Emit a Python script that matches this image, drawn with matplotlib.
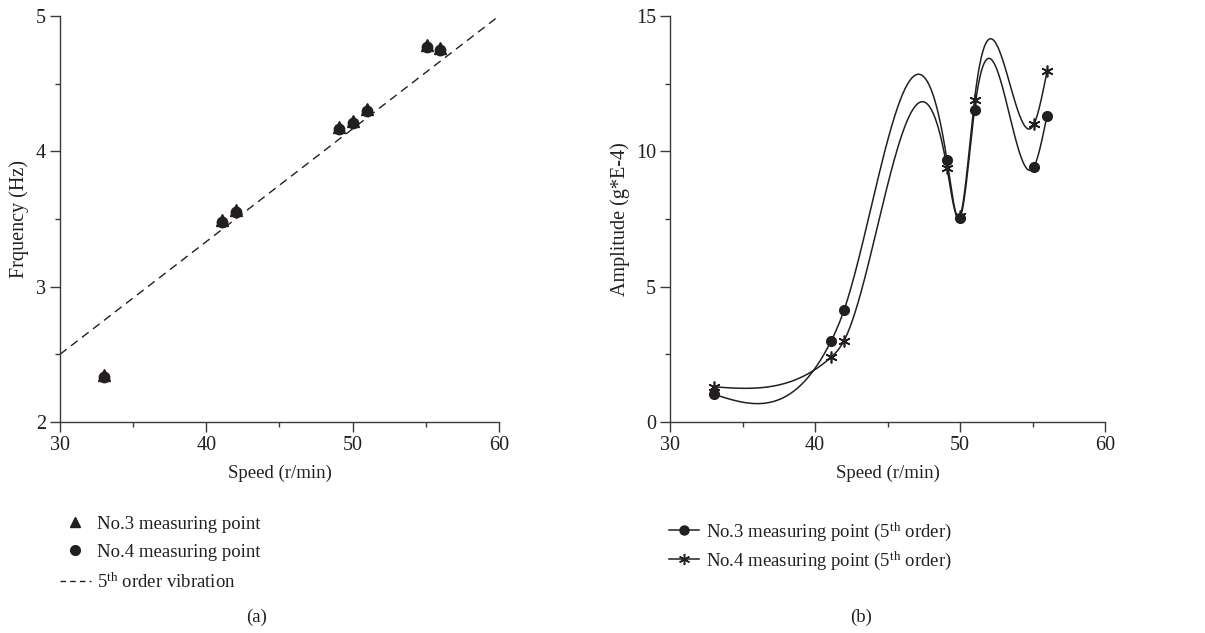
import numpy as np
import matplotlib
matplotlib.use("Agg")
import matplotlib.pyplot as plt
from matplotlib.ticker import MultipleLocator

plt.rcParams['font.family'] = ['Liberation Serif', 'DejaVu Serif']
plt.rcParams['mathtext.fontset'] = 'custom'
plt.rcParams['mathtext.rm'] = 'Liberation Serif'
plt.rcParams['mathtext.it'] = 'Liberation Serif:italic'

# ---------------- data ----------------
speed = [33, 41.1, 42, 49.1, 50, 51, 55.1, 56]
freq_p3 = [2.345, 3.495, 3.565, 4.18, 4.225, 4.315, 4.785, 4.765]
freq_p4 = [2.33, 3.48, 3.55, 4.165, 4.21, 4.30, 4.77, 4.75]
line_speed = [30, 60]
line_freq = [2.5, 5.0]

amp_p3 = [1.03, 2.98, 4.13, 9.68, 7.55, 11.53, 9.43, 11.32]
amp_p4 = [1.30, 2.39, 3.00, 9.40, 7.61, 11.90, 11.00, 12.95]

INK = '#231f20'


def natural_spline(x, y, n=600):
    x = np.asarray(x, float)
    y = np.asarray(y, float)
    k = len(x)
    h = np.diff(x)
    A = np.zeros((k, k))
    b = np.zeros(k)
    A[0, 0] = 1
    A[-1, -1] = 1
    for i in range(1, k - 1):
        A[i, i - 1] = h[i - 1]
        A[i, i] = 2 * (h[i - 1] + h[i])
        A[i, i + 1] = h[i]
        b[i] = 6 * ((y[i + 1] - y[i]) / h[i] - (y[i] - y[i - 1]) / h[i - 1])
    M = np.linalg.solve(A, b)
    xs = np.linspace(x[0], x[-1], n)
    idx = np.clip(np.searchsorted(x, xs) - 1, 0, k - 2)
    x0, x1 = x[idx], x[idx + 1]
    hh = x1 - x0
    t1 = x1 - xs
    t0 = xs - x0
    ys = (M[idx] * t1 ** 3 / (6 * hh) + M[idx + 1] * t0 ** 3 / (6 * hh)
          + (y[idx] / hh - M[idx] * hh / 6) * t1
          + (y[idx + 1] / hh - M[idx + 1] * hh / 6) * t0)
    return xs, ys


fig = plt.figure(figsize=(12.05, 6.33), dpi=100)
axL = fig.add_axes([60 / 1205, 1 - 422 / 633, (499 - 60) / 1205, (422 - 16) / 633])
axR = fig.add_axes([670 / 1205, 1 - 422 / 633, (1105 - 670) / 1205, (422 - 16) / 633])

FS = 13.5
TFS = 14.5
YFS = 14.5


def style(ax):
    for s in ['top', 'right']:
        ax.spines[s].set_visible(False)
    for s in ['left', 'bottom']:
        ax.spines[s].set_color('#3a3a3a')
        ax.spines[s].set_linewidth(1.0)
    ax.tick_params(which='major', direction='out', length=7, width=1.0,
                   color='#3a3a3a', labelsize=TFS, labelcolor=INK, pad=3)
    ax.tick_params(which='minor', direction='out', length=3.5, width=1.0,
                   color='#3a3a3a')
    ax.xaxis.set_major_locator(MultipleLocator(10))
    ax.xaxis.set_minor_locator(MultipleLocator(5))
    ax.set_xlim(30, 60)


# ---------------- (a) ----------------
style(axL)
axL.set_ylim(2, 5)
axL.yaxis.set_major_locator(MultipleLocator(1))
axL.yaxis.set_minor_locator(MultipleLocator(0.5))
h3, = axL.plot(speed, freq_p3, linestyle='none', marker='^', ms=8.5, color=INK,
               label='No.3 measuring point', clip_on=False)
h4, = axL.plot(speed, freq_p4, linestyle='none', marker='o', ms=7.5, color=INK,
               label='No.4 measuring point', clip_on=False)
hl, = axL.plot(line_speed, line_freq, linestyle=(0, (6, 4)), color=INK, lw=1.0,
               label='5$^{\\mathrm{th}}$ order vibration')
axL.set_xlabel('Speed (r/min)', fontsize=FS, color=INK, labelpad=7)
axL.set_ylabel('Frquency (Hz)', fontsize=YFS, color=INK, labelpad=5)
legA = axL.legend(handles=[h3, h4, hl], loc='upper left',
                  bbox_to_anchor=(52 / 1205, 1 - 508 / 633), bbox_transform=fig.transFigure,
                  frameon=False, fontsize=FS, handlelength=1.7, handletextpad=0.3,
                  labelspacing=0.6, borderaxespad=0, labelcolor=INK)
for hd in legA.legend_handles[:2]:
    hd.set_markersize(7)
legA.legend_handles[2].set_linestyle((0, (4, 3)))
fig.text(257 / 1205, 1 - 617 / 633, '(a)', ha='center', va='center', fontsize=FS, color=INK)

# ---------------- (b) ----------------
style(axR)
axR.set_ylim(0, 15)
axR.yaxis.set_major_locator(MultipleLocator(5))
axR.yaxis.set_minor_locator(MultipleLocator(2.5))
xs3, ys3 = natural_spline(speed, amp_p3)
xs4, ys4 = natural_spline(speed, amp_p4)
axR.plot(xs3, ys3, color=INK, lw=1.1)
axR.plot(xs4, ys4, color=INK, lw=1.1)
axR.plot(speed, amp_p3, linestyle='none', marker='o', ms=7, color=INK, clip_on=False)
axR.plot(speed, amp_p4, linestyle='none', marker=(6, 2, 0), ms=8.5, mew=1.2, color=INK,
         clip_on=False)
hb3, = axR.plot([], [], color=INK, lw=1.1, marker='o', ms=6.5,
                label='No.3 measuring point (5$^{\\mathrm{th}}$ order)')
hb4, = axR.plot([], [], color=INK, lw=1.1, marker=(6, 2, 0), ms=8, mew=1.1,
                label='No.4 measuring point (5$^{\\mathrm{th}}$ order)')
axR.set_xlabel('Speed (r/min)', fontsize=FS, color=INK, labelpad=7)
axR.set_ylabel('Amplitude (g*E-4)', fontsize=YFS, color=INK, labelpad=4)
axR.legend(handles=[hb3, hb4], loc='upper left',
           bbox_to_anchor=(661 / 1205, 1 - 513 / 633), bbox_transform=fig.transFigure,
           frameon=False, fontsize=FS, handlelength=1.65, handletextpad=0.37,
           labelspacing=0.35, borderaxespad=0, labelcolor=INK)
fig.text(861 / 1205, 1 - 617 / 633, '(b)', ha='center', va='center', fontsize=FS, color=INK)

fig.savefig('out.png', dpi=100, facecolor='white')
